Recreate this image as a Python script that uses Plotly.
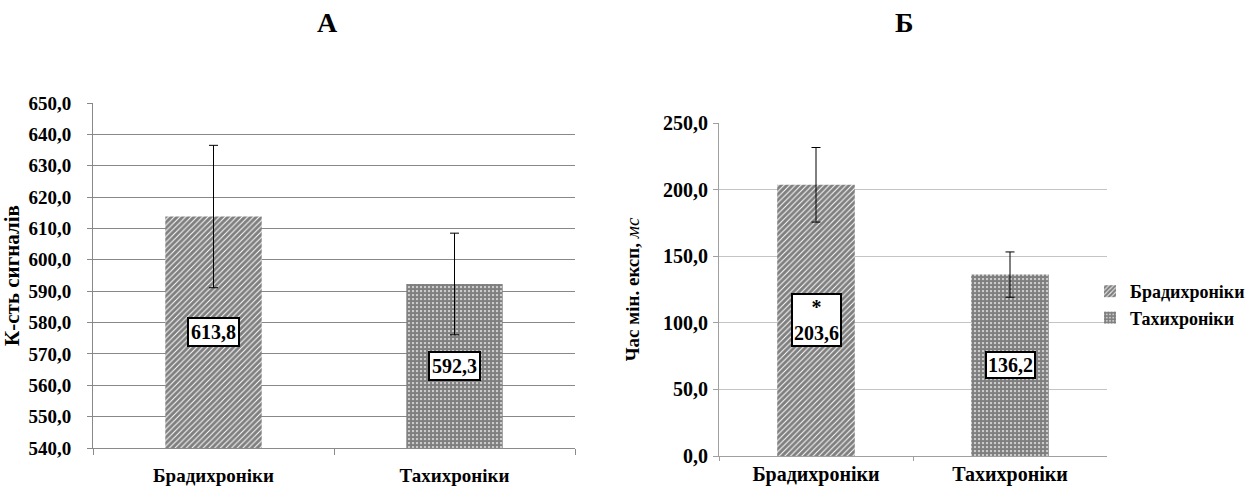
import plotly.graph_objects as go
from plotly.subplots import make_subplots

categories = ["Брадихроніки", "Тахихроніки"]
signals_mean = [613.8, 592.3]
signals_err = [22.7, 16.2]
time_mean = [203.6, 136.2]
time_err = [28.0, 17.0]
time_marks = ["*", ""]
left_ticks = [540, 550, 560, 570, 580, 590, 600, 610, 620, 630, 640, 650]
right_ticks = [0, 50, 100, 150, 200, 250]

FONT = "Liberation Serif"
patterns = [dict(shape="/", fgcolor="black", bgcolor="white", size=4, solidity=0.75),
            dict(shape=".", fgcolor="black", bgcolor="white", size=4, solidity=0.8)]

fig = make_subplots(rows=1, cols=2)

def fmt(v):
    return f"{v:.1f}".replace(".", ",")

for i, cat in enumerate(categories):
    fig.add_trace(go.Bar(x=[cat], y=[signals_mean[i] - 540], base=540, width=0.4,
                         marker=dict(color="white", pattern=patterns[i], line=dict(width=0)),
                         error_y=dict(type="data", array=[signals_err[i]], color="black",
                                      thickness=1, width=4.5),
                         showlegend=False, name=cat), row=1, col=1)
    fig.add_trace(go.Bar(x=[cat], y=[time_mean[i]], width=0.4,
                         marker=dict(color="white", pattern=patterns[i], line=dict(width=0)),
                         error_y=dict(type="data", array=[time_err[i]], color="black",
                                      thickness=1, width=4.5),
                         showlegend=True, name=cat), row=1, col=2)

annotations = []
for i, cat in enumerate(categories):
    annotations.append(dict(x=cat, y=(540 + signals_mean[i]) / 2, xref="x", yref="y",
                            text=f"<b>{fmt(signals_mean[i])}</b>", showarrow=False,
                            font=dict(family=FONT, size=20, color="black"),
                            bgcolor="white", bordercolor="black", borderwidth=2, borderpad=2))
    txt = f"<b>{fmt(time_mean[i])}</b>"
    if time_marks[i]:
        txt = f"<b>{time_marks[i]}</b><br>" + txt
    annotations.append(dict(x=cat, y=time_mean[i] / 2, xref="x2", yref="y2",
                            text=txt, showarrow=False,
                            font=dict(family=FONT, size=20, color="black"),
                            bgcolor="white", bordercolor="black", borderwidth=2, borderpad=1))
annotations.append(dict(x=327 / 1253, y=1 - 23 / 487, xref="paper", yref="paper",
                        xanchor="center", yanchor="middle",
                        text="<b>А</b>", showarrow=False,
                        font=dict(family=FONT, size=28, color="black")))
annotations.append(dict(x=904 / 1253, y=1 - 23 / 487, xref="paper", yref="paper",
                        xanchor="center", yanchor="middle",
                        text="<b>Б</b>", showarrow=False,
                        font=dict(family=FONT, size=28, color="black")))

fig.update_layout(
    width=1253, height=487, autosize=False,
    margin=dict(l=0, r=0, t=0, b=0, autoexpand=False),
    paper_bgcolor="white", plot_bgcolor="white",
    barmode="overlay", separators=", ",
    font=dict(family=FONT, color="black"),
    annotations=annotations,
    legend=dict(x=1090 / 1253, y=1 - 273 / 487, xanchor="left", yanchor="top",
                font=dict(family=FONT, size=18, color="black", weight="bold"),
                itemwidth=30, tracegroupgap=0, bgcolor="rgba(0,0,0,0)"),
)

fig.update_xaxes(showgrid=False, showline=True, linewidth=1,
                 ticks="outside", ticklen=6, tickson="boundaries", fixedrange=True)
fig.update_xaxes(domain=[93 / 1253, 575 / 1253], linecolor="#8a8a8a", tickcolor="#8a8a8a",
                 ticklabelstandoff=10,
                 tickfont=dict(family=FONT, size=19, color="black", weight="bold"),
                 row=1, col=1)
fig.update_xaxes(domain=[719 / 1253, 1107 / 1253], linecolor="#a0a0a0", tickcolor="#a0a0a0",
                 ticklabelstandoff=0, ticklen=4,
                 tickfont=dict(family=FONT, size=20, color="black", weight="bold"),
                 row=1, col=2)

fig.update_yaxes(showgrid=True, gridwidth=1, showline=True, linewidth=1, ticks="outside",
                 ticklen=5, zeroline=False, tickformat=".1f", fixedrange=True)
fig.update_yaxes(domain=[1 - 448 / 487, 1 - 103 / 487], range=[540, 650], tickvals=left_ticks,
                 gridcolor="#888888", linecolor="#888888", tickcolor="#888888",
                 ticklabelstandoff=12,
                 tickfont=dict(family=FONT, size=19, color="black", weight="bold"),
                 title=dict(text="<b>К-сть сигналів</b>", font=dict(family=FONT, size=21, color="black"),
                            standoff=7),
                 row=1, col=1)
fig.update_yaxes(domain=[1 - 456 / 487, 1 - 123 / 487], range=[0, 250], tickvals=right_ticks,
                 gridcolor="#c4c4c4", linecolor="#a0a0a0", tickcolor="#a0a0a0",
                 ticklabelstandoff=1,
                 tickfont=dict(family=FONT, size=20, color="black", weight="bold"),
                 title=dict(text="<b>Час мін. експ,</b> <i>мс</i>",
                            font=dict(family=FONT, size=19, color="black"), standoff=18),
                 row=1, col=2)

fig.write_html("out.html", config={"displayModeBar": False},
               post_script="document.body.style.margin='0';document.documentElement.style.overflow='hidden';")
